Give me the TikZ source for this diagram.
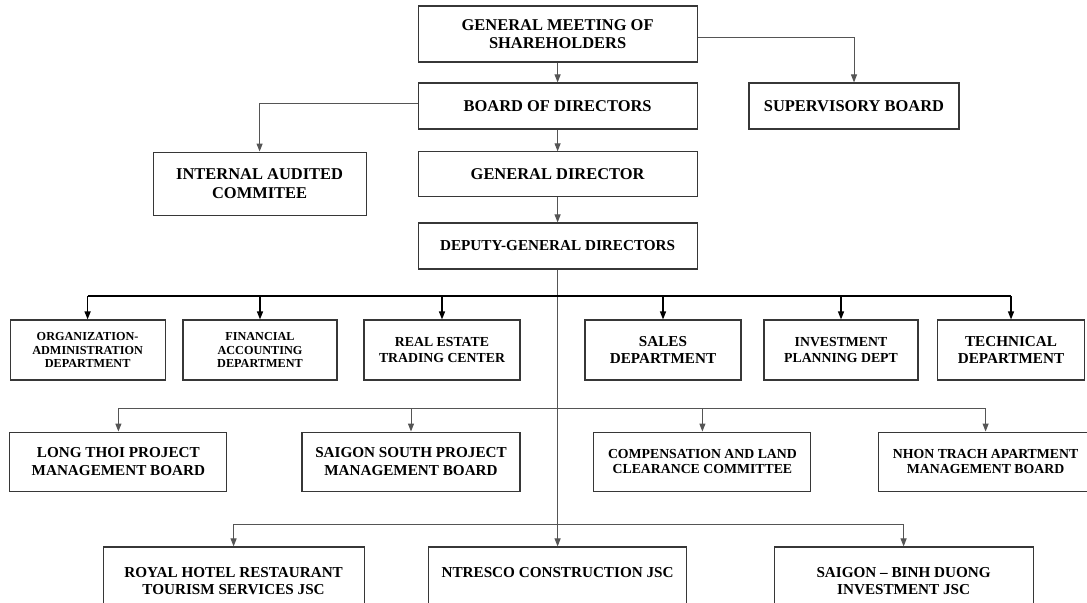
\documentclass[tikz,border=0pt]{standalone}
\usepackage{fontspec}
\setmainfont{Liberation Serif}
\definecolor{boxline}{RGB}{55,55,55}
\definecolor{linkgray}{RGB}{85,85,85}
\usetikzlibrary{arrows.meta,positioning}

\begin{document}
\begin{tikzpicture}[
  box/.style={draw=boxline, line width=0.8pt, fill=white, align=center,
              inner sep=1pt},
  bigfont/.style={font=\fontsize{11.7}{13}\selectfont\bfseries},
  midfont/.style={font=\fontsize{10.8}{12.2}\selectfont\bfseries},
  smallfont/.style={font=\fontsize{9.8}{11.2}\selectfont\bfseries},
  tinyfont/.style={font=\fontsize{8.7}{9.7}\selectfont\bfseries},
  arr/.style={-{Triangle[length=2mm,width=1.5mm]}, linkgray, line width=0.7pt},
  darr/.style={arr, black, line width=0.9pt},
  link/.style={linkgray, line width=0.7pt},
  bar/.style={black, line width=1.4pt}
]
\useasboundingbox (0,0) rectangle (27.175,-15.075);

% top of the chart
\node[box, bigfont, minimum width=6.975cm, minimum height=1.4cm] (gms) at (13.94,-0.85) {GENERAL MEETING OF\\SHAREHOLDERS};
\node[box, bigfont, minimum width=6.975cm, minimum height=1.15cm] (bod) at (13.94,-2.65) {BOARD OF DIRECTORS};
\node[box, bigfont, minimum width=5.25cm, minimum height=1.15cm] (sup) at (21.35,-2.65) {SUPERVISORY BOARD};
\node[box, bigfont, minimum width=5.325cm, minimum height=1.575cm] (iac) at (6.49,-4.59) {INTERNAL AUDITED\\COMMITEE};
\node[box, bigfont, minimum width=6.975cm, minimum height=1.125cm] (gd) at (13.94,-4.36) {GENERAL DIRECTOR};
\node[box, midfont, minimum width=6.975cm, minimum height=1.15cm] (dgd) at (13.94,-6.15) {DEPUTY-GENERAL DIRECTORS};

% departments
\node[box, tinyfont, minimum width=3.875cm, minimum height=1.5cm] (org) at (2.19,-8.75) {ORGANIZATION-\\ADMINISTRATION\\DEPARTMENT};
\node[box, tinyfont, minimum width=3.85cm, minimum height=1.5cm] (fin) at (6.5,-8.75) {FINANCIAL\\ACCOUNTING\\DEPARTMENT};
\node[box, smallfont, minimum width=3.9cm, minimum height=1.5cm] (res) at (11.05,-8.75) {REAL ESTATE\\TRADING CENTER};
\node[box, midfont, minimum width=3.9cm, minimum height=1.5cm] (sal) at (16.575,-8.75) {SALES\\DEPARTMENT};
\node[box, smallfont, minimum width=3.85cm, minimum height=1.5cm] (inv) at (21.025,-8.75) {INVESTMENT\\PLANNING DEPT};
\node[box, midfont, minimum width=3.675cm, minimum height=1.5cm] (tec) at (25.275,-8.75) {TECHNICAL\\DEPARTMENT};

% management boards
\node[box, midfont, minimum width=5.425cm, minimum height=1.475cm] (ltb) at (2.96,-11.54) {LONG THOI PROJECT\\MANAGEMENT BOARD};
\node[box, midfont, minimum width=5.45cm, minimum height=1.475cm] (ssb) at (10.275,-11.54) {SAIGON SOUTH PROJECT\\MANAGEMENT BOARD};
\node[box, smallfont, minimum width=5.425cm, minimum height=1.475cm] (ccb) at (17.56,-11.54) {COMPENSATION AND LAND\\CLEARANCE COMMITTEE};
\node[box, smallfont, minimum width=5.375cm, minimum height=1.475cm] (ntb) at (24.64,-11.54) {NHON TRACH APARTMENT\\MANAGEMENT BOARD};

% companies
\node[box, midfont, minimum width=6.525cm, minimum height=1.7cm] (roy) at (5.84,-14.525) {ROYAL HOTEL RESTAURANT\\TOURISM SERVICES JSC};
\node[box, midfont, minimum width=6.45cm, minimum height=1.7cm] (ntr) at (13.94,-14.525) {NTRESCO CONSTRUCTION JSC\\\mbox{}};
\node[box, midfont, minimum width=6.475cm, minimum height=1.7cm] (sbd) at (22.59,-14.525) {SAIGON -- BINH DUONG\\INVESTMENT JSC};

\coordinate (deptbar) at (0,-7.4);
\coordinate (boardbar) at (0,-10.2);
\coordinate (jscbar) at (0,-13.1);

\draw[arr] (gms) -- (bod);
\draw[arr] ([yshift=-0.75mm]gms.east) -| (sup);
\draw[arr] ([yshift=0.75mm]bod.west) -| (iac);
\draw[arr] (bod) -- (gd); \draw[arr] (gd) -- (dgd);
\draw[arr] (dgd) -- (ntr);

\draw[bar] (org |- deptbar) -- (tec |- deptbar);
\draw[darr] (org |- deptbar) -- (org); \draw[darr] (fin |- deptbar) -- (fin);
\draw[darr] (res |- deptbar) -- (res); \draw[darr] (sal |- deptbar) -- (sal);
\draw[darr] (inv |- deptbar) -- (inv); \draw[darr] (tec |- deptbar) -- (tec);

\draw[link] (ltb |- boardbar) -- (ntb |- boardbar);
\draw[arr] (ltb |- boardbar) -- (ltb); \draw[arr] (ssb |- boardbar) -- (ssb);
\draw[arr] (ccb |- boardbar) -- (ccb); \draw[arr] (ntb |- boardbar) -- (ntb);

\draw[link] (roy |- jscbar) -- (sbd |- jscbar);
\draw[arr] (roy |- jscbar) -- (roy); \draw[arr] (sbd |- jscbar) -- (sbd);
\end{tikzpicture}
\end{document}
